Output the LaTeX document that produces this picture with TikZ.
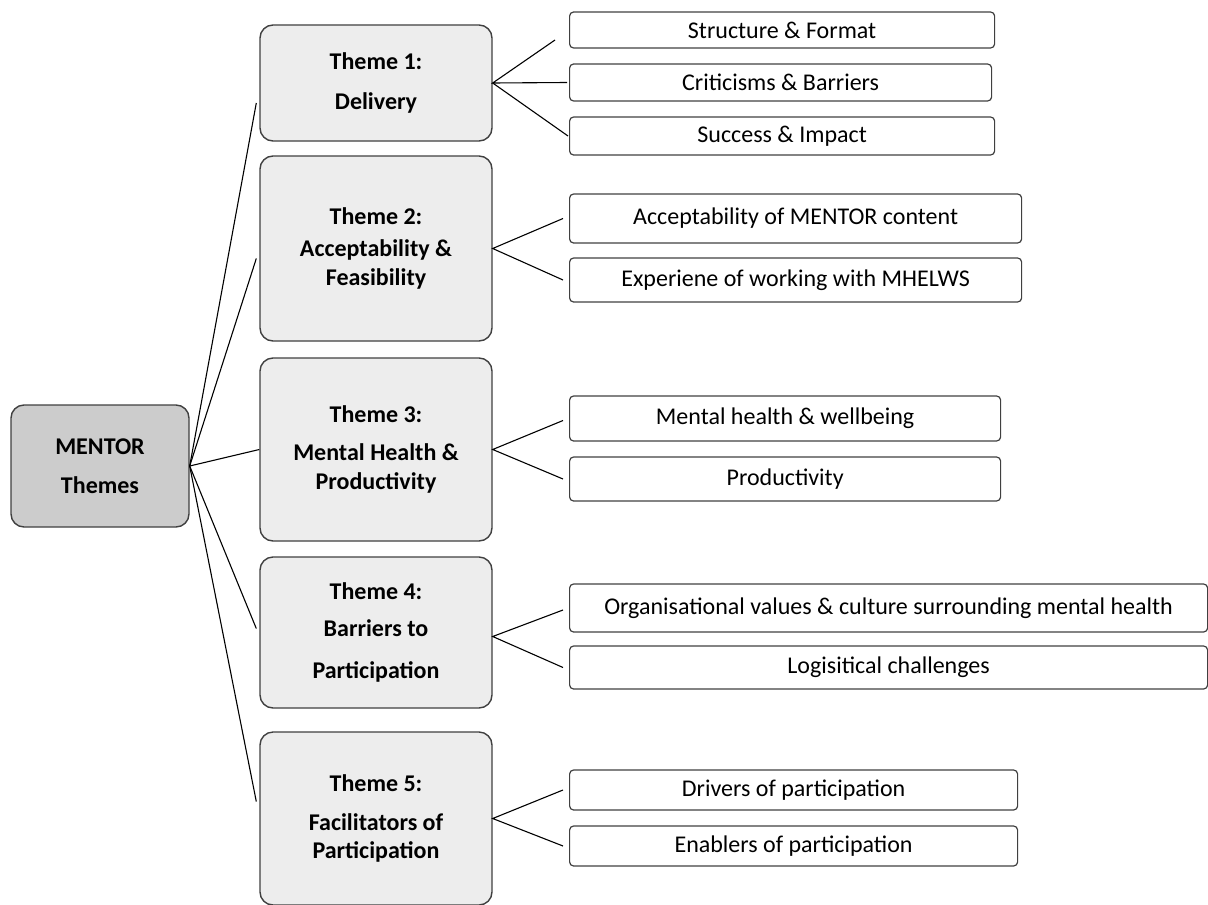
\documentclass[tikz,border=0pt]{standalone}
\usepackage{fontspec}
\setmainfont{Carlito}
\usepackage{xcolor}
\newcommand{\rootcolor}{black!20!white}
\newcommand{\themecolor}{black!7!white}
\newcommand{\edgecolor}{black!75!white}

\begin{document}
\begin{tikzpicture}[x=0.5pt, y=-0.5pt,
        rootbox/.style={draw=\edgecolor, fill=\rootcolor, line width=0.7pt, rounded corners=6.5pt,
            inner sep=0pt, minimum width=89pt, minimum height=61pt, align=center, font=\fontsize{12}{14.4}\selectfont\bfseries},
        themebox/.style={draw=\edgecolor, fill=\themecolor, line width=0.7pt, rounded corners=6.5pt,
            inner sep=0pt, minimum width=116pt, align=center, font=\fontsize{12}{14.4}\selectfont\bfseries},
        subbox/.style={draw=\edgecolor, line width=0.6pt, rounded corners=2pt, anchor=west,
            inner sep=0pt, font=\fontsize{12}{14.4}\selectfont},
        link/.style={black, line width=0.55pt}]
        \useasboundingbox (0, 0) rectangle (1208, 904);

        % root and themes
        \node[rootbox] (root) at (100, 466) {MENTOR\\[5pt]Themes};
        \node[themebox, minimum height=58pt] (t1) at (376, 83) {Theme 1:\\[6pt]Delivery};
        \node[themebox, minimum height=92.5pt] (t2) at (376, 248.5) {Theme 2:\\[1.5pt]Acceptability \&\\Feasibility};
        \node[themebox, minimum height=91.5pt] (t3) at (376, 449.5) {Theme 3:\\[4.5pt]Mental Health \&\\Productivity};
        \node[themebox, minimum height=75.5pt] (t4) at (376, 632.5) {Theme 4:\\[4pt]Barriers to\\[7pt]Participation};
        \node[themebox, minimum height=86.5pt] (t5) at (376, 818.5) {Theme 5:\\[5pt]Facilitators of\\Participation};

        % sub themes
        \node[subbox, minimum width=212.5pt, minimum height=18pt] (s1a) at (569, 30) {Structure \& Format};
        \node[subbox, minimum width=211pt, minimum height=18.5pt] (s1b) at (569, 82.5) {Criticisms \& Barriers};
        \node[subbox, minimum width=212.5pt, minimum height=19pt] (s1c) at (569, 136) {Success \& Impact};
        \node[subbox, minimum width=226pt, minimum height=24.5pt] (s2a) at (569, 218.5) {Acceptability of MENTOR content};
        \node[subbox, minimum width=226pt, minimum height=22pt] (s2b) at (569, 280) {Experiene of working with MHELWS};
        \node[subbox, minimum width=215.5pt, minimum height=22.5pt] (s3a) at (569, 418.5) {Mental health \& wellbeing};
        \node[subbox, minimum width=215.5pt, minimum height=22pt] (s3b) at (569, 479) {Productivity};
        \node[subbox, minimum width=319pt, minimum height=24pt] (s4a) at (569, 608) {Organisational values \& culture surrounding mental health};
        \node[subbox, minimum width=319pt, minimum height=21.5pt] (s4b) at (569, 667.5) {Logisitical challenges};
        \node[subbox, minimum width=224pt, minimum height=20pt] (s5a) at (569, 790) {Drivers of participation};
        \node[subbox, minimum width=224pt, minimum height=20pt] (s5b) at (569, 846) {Enablers of participation};

        % root to themes
        \draw[link] (root.east) -- ([xshift=-1.5pt, yshift=-10pt]t1.west);
        \draw[link] (root.east) -- ([xshift=-1.5pt, yshift=-5pt]t2.west);
        \draw[link] (root.east) -- (t3.west);
        \draw[link] (root.east) -- ([xshift=-1.5pt, yshift=2pt]t4.west);
        \draw[link] (root.east) -- ([xshift=-1.5pt, yshift=8.5pt]t5.west);

        % themes to sub themes
        \draw[link] ([xshift=-7pt, yshift=-5pt]s1a.west) -- (t1.east) -- ([xshift=-1pt]s1b.west);
        \draw[link] (t1.east) -- ([xshift=-0.5pt]s1c.west);
        \draw[link] ([xshift=-3pt]s2a.west) -- (t2.east) -- ([xshift=-3pt]s2b.west);
        \draw[link] ([xshift=-3pt, yshift=-1pt]s3a.west) -- (t3.east) -- ([xshift=-3pt]s3b.west);
        \draw[link] ([xshift=-3pt, yshift=-1pt]s4a.west) -- ([yshift=-2pt]t4.east) -- ([xshift=-3pt]s4b.west);
        \draw[link] ([xshift=-3pt]s5a.west) -- (t5.east) -- ([xshift=-3pt]s5b.west);
    \end{tikzpicture}
\end{document}
